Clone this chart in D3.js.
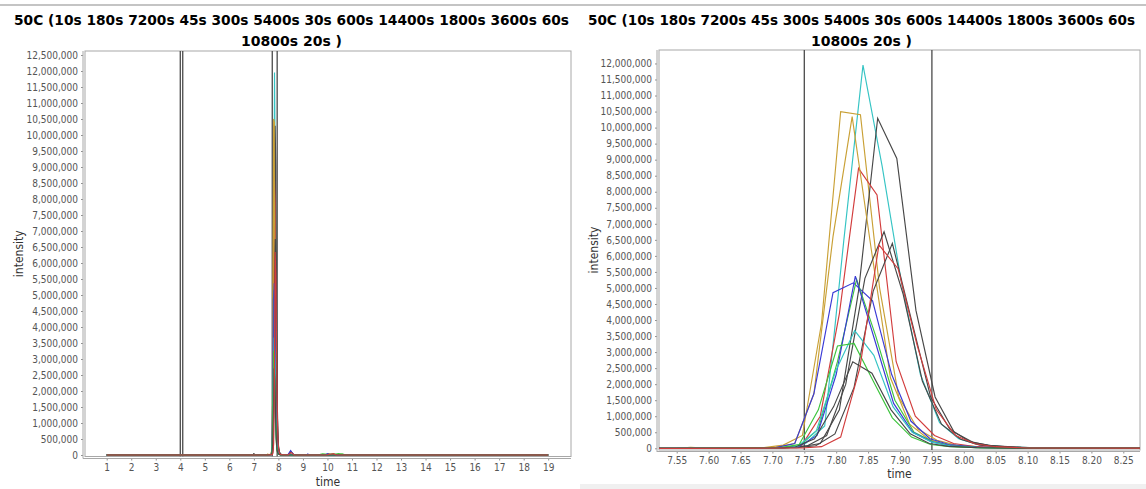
<!DOCTYPE html>
<html>
<head>
<meta charset="utf-8">
<script src="https://cdn.jsdelivr.net/npm/d3@7"></script>
<style>
  body { margin: 0; background: #fff; }
  svg { display: block; }
  text { font-family: "DejaVu Sans Condensed", "DejaVu Sans", sans-serif; }
</style>
</head>
<body>
<svg id="chart" width="1146" height="489"></svg>
<script>
// ---- chart text ----
const titleLines = [
  "50C (10s 180s 7200s 45s 300s 5400s 30s 600s 14400s 1800s 3600s 60s",
  "10800s 20s )"
];
const xLabel = "time";
const yLabel = "intensity";

// ---- samples (one trace per hold time) ----
const sampleNames = ["10s", "180s", "7200s", "45s", "300s", "5400s", "30s",
                     "600s", "14400s", "1800s", "3600s", "60s", "10800s", "20s"];
const sampleColors = ["#35c4c4", "#c9a035", "#474747", "#d23c3c", "#c9a035", "#474747", "#3a3ad6",
                      "#3cc43c", "#474747", "#3a3ad6", "#35c4c4", "#3cc43c", "#474747", "#d23c3c"];

// retention time (min) of each scan, per sample
const scanTimes = [
  [1.0, 7.55, 7.70, 7.722, 7.752, 7.782, 7.812, 7.842, 7.872, 7.902, 7.932, 7.962, 7.992, 8.022, 8.06, 8.12, 19.0],
  [1.0, 7.55, 7.572, 7.60, 7.687, 7.717, 7.747, 7.777, 7.807, 7.838, 7.868, 7.898, 7.928, 7.958, 7.988, 8.03, 8.10, 19.0],
  [1.0, 6.98, 7.0, 7.02, 7.55, 7.715, 7.745, 7.775, 7.805, 7.835, 7.865, 7.895, 7.925, 7.955, 7.985, 8.015, 8.045, 8.09, 8.15, 8.40, 8.50, 8.62, 19.0],
  [1.0, 7.55, 7.715, 7.745, 7.775, 7.805, 7.835, 7.864, 7.894, 7.924, 7.954, 7.984, 8.02, 8.08, 9.95, 10.05, 10.15, 19.0],
  [1.0, 7.55, 7.705, 7.735, 7.765, 7.795, 7.825, 7.855, 7.885, 7.915, 7.945, 7.975, 8.02, 8.08, 19.0],
  [1.0, 7.55, 7.725, 7.755, 7.785, 7.815, 7.845, 7.875, 7.905, 7.935, 7.965, 7.995, 8.025, 8.07, 8.14, 8.42, 8.52, 8.64, 19.0],
  [1.0, 7.55, 7.705, 7.735, 7.765, 7.795, 7.827, 7.857, 7.887, 7.917, 7.947, 7.977, 8.02, 8.08, 8.38, 8.50, 8.62, 9.15, 9.20, 9.25, 19.0],
  [1.0, 7.55, 7.712, 7.742, 7.772, 7.802, 7.832, 7.862, 7.892, 7.922, 7.952, 7.982, 8.02, 8.08, 9.6, 9.8, 10.0, 10.2, 10.4, 10.6, 10.75, 19.0],
  [1.0, 7.55, 7.738, 7.768, 7.798, 7.828, 7.858, 7.888, 7.918, 7.948, 7.978, 8.008, 8.038, 8.08, 8.15, 19.0],
  [1.0, 7.55, 7.71, 7.74, 7.77, 7.80, 7.830, 7.86, 7.89, 7.92, 7.95, 7.98, 8.02, 8.08, 9.9, 10.0, 10.1, 19.0],
  [1.0, 7.55, 7.709, 7.739, 7.769, 7.799, 7.829, 7.859, 7.889, 7.919, 7.949, 7.979, 8.02, 8.08, 19.0],
  [1.0, 7.55, 7.712, 7.742, 7.772, 7.802, 7.828, 7.858, 7.888, 7.918, 7.948, 7.978, 8.02, 8.08, 10.3, 10.45, 10.6, 19.0],
  [1.0, 7.55, 7.706, 7.736, 7.766, 7.796, 7.826, 7.856, 7.886, 7.916, 7.946, 7.976, 8.02, 8.08, 19.0],
  [1.0, 7.55, 7.747, 7.777, 7.807, 7.837, 7.867, 7.897, 7.927, 7.957, 7.987, 8.017, 8.05, 8.10, 8.40, 8.52, 8.64, 9.95, 10.25, 10.35, 19.0]
];

// intensity of each scan, per sample
const scanIntensity = [
  [0, 0, 10e3, 40e3, 150e3, 700e3, 6.5e6, 11.95e6, 8.8e6, 5.2e6, 2.3e6, 0.8e6, 0.3e6, 0.12e6, 50e3, 10e3, 0],
  [0, 0, 30e3, 0, 20e3, 100e3, 400e3, 3.9e6, 10.5e6, 10.4e6, 5.0e6, 1.6e6, 0.6e6, 0.25e6, 0.1e6, 40e3, 10e3, 0],
  [0, 0, 60e3, 0, 0, 20e3, 50e3, 150e3, 1.2e6, 4.9e6, 10.29e6, 9.04e6, 4.3e6, 1.6e6, 0.5e6, 0.18e6, 80e3, 30e3, 10e3, 0, 120e3, 0, 0],
  [0, 0, 10e3, 60e3, 1.0e6, 4.2e6, 8.73e6, 7.9e6, 2.7e6, 1.0e6, 0.4e6, 0.15e6, 50e3, 10e3, 0, 40e3, 0, 0],
  [0, 0, 30e3, 150e3, 1.7e6, 6.6e6, 10.34e6, 6.2e6, 2.2e6, 0.75e6, 0.28e6, 0.1e6, 30e3, 10e3, 0],
  [0, 0, 20e3, 80e3, 400e3, 2.0e6, 5.3e6, 6.75e6, 4.8e6, 2.1e6, 0.75e6, 0.28e6, 0.1e6, 30e3, 10e3, 0, 100e3, 0, 0],
  [0, 0, 20e3, 150e3, 1.7e6, 4.85e6, 5.16e6, 4.6e6, 2.3e6, 0.85e6, 0.3e6, 0.12e6, 40e3, 10e3, 0, 140e3, 0, 0, 30e3, 0, 0],
  [0, 0, 10e3, 60e3, 0.6e6, 2.7e6, 5.27e6, 3.5e6, 1.5e6, 0.5e6, 0.2e6, 0.08e6, 30e3, 10e3, 0, 40e3, 20e3, 40e3, 30e3, 40e3, 0, 0],
  [0, 0, 20e3, 80e3, 0.45e6, 1.9e6, 4.9e6, 6.39e6, 4.0e6, 1.6e6, 0.6e6, 0.22e6, 90e3, 30e3, 10e3, 0],
  [0, 0, 10e3, 40e3, 0.4e6, 2.3e6, 5.37e6, 3.4e6, 1.4e6, 0.5e6, 0.2e6, 0.08e6, 30e3, 10e3, 0, 40e3, 0, 0],
  [0, 0, 10e3, 50e3, 0.55e6, 2.4e6, 3.67e6, 2.9e6, 1.3e6, 0.5e6, 0.2e6, 0.07e6, 20e3, 5e3, 0],
  [0, 0, 20e3, 120e3, 1.2e6, 3.19e6, 3.27e6, 2.1e6, 0.95e6, 0.35e6, 0.12e6, 0.05e6, 20e3, 5e3, 0, 40e3, 0, 0],
  [0, 0, 10e3, 40e3, 0.3e6, 1.3e6, 2.7e6, 2.34e6, 1.2e6, 0.45e6, 0.15e6, 0.06e6, 20e3, 5e3, 0],
  [0, 0, 10e3, 50e3, 0.35e6, 2.5e6, 6.34e6, 5.6e6, 3.2e6, 1.2e6, 0.4e6, 0.14e6, 50e3, 10e3, 0, 80e3, 0, 0, 40e3, 0, 0]
];

// range markers (min)
const fullMarkers = [4.0, 4.1, 7.75, 7.95];
const zoomMarkers = [7.75, 7.95];

// tick labels
const fullTimeTicks = d3.range(1, 20);
const zoomTimeTicks = [7.55, 7.60, 7.65, 7.70, 7.75, 7.80, 7.85, 7.90, 7.95, 8.00, 8.05, 8.10, 8.15, 8.20, 8.25];
const fullIntensityTicks = d3.range(0, 12500001, 500000);
const zoomIntensityTicks = d3.range(0, 12000001, 500000);

const svg = d3.select("#chart");

// thin grey separators at the top of each panel and bottom of the right one
svg.append("rect").attr("x", 0).attr("y", 4).attr("width", 1146).attr("height", 2).attr("fill", "#c4c4c4");
svg.append("rect").attr("x", 580).attr("y", 484).attr("width", 566).attr("height", 5).attr("fill", "#f0f0f0");

const panels = [
  {
    id: "full", cx: 291.5, titleW: 555,
    plot: { x0: 85, x1: 571, y0: 51, y1: 456.5 },
    xDomain: [1, 19], xRange: [106.7, 548.2],
    yDomain: [0, 12500000], yRange: [455, 55],
    xTicks: fullTimeTicks, xFmt: d3.format("d"),
    yTicks: fullIntensityTicks, markers: fullMarkers,
    yAxisX: 83, xAxisY: 458.5, xLabelY: 486, yLabelX: 23, xPad: 3
  },
  {
    id: "zoom", cx: 861.5, titleW: 547,
    plot: { x0: 659, x1: 1140, y0: 50, y1: 450 },
    xDomain: [7.55, 8.25], xRange: [676.7, 1123.3],
    yDomain: [0, 12000000], yRange: [448.3, 63.46],
    xTicks: zoomTimeTicks, xFmt: d3.format(".2f"),
    yTicks: zoomIntensityTicks, markers: zoomMarkers,
    yAxisX: 657, xAxisY: 451.5, xLabelY: 478, yLabelX: 598, xPad: 3
  }
];

panels.forEach(p => {
  const g = svg.append("g").attr("class", "panel-" + p.id);
  const x = d3.scaleLinear().domain(p.xDomain).range(p.xRange);
  const y = d3.scaleLinear().domain(p.yDomain).range(p.yRange);

  // title
  titleLines.forEach((line, i) => {
    g.append("text")
      .attr("x", p.cx).attr("y", 25 + i * 20.5)
      .attr("text-anchor", "middle")
      .attr("font-size", 13.8).attr("font-weight", "bold").attr("fill", "#000")
      .attr("textLength", i === 0 ? p.titleW : 101).attr("lengthAdjust", "spacingAndGlyphs")
      .text(line);
  });

  // plot background and outline
  g.append("rect")
    .attr("x", p.plot.x0).attr("y", p.plot.y0)
    .attr("width", p.plot.x1 - p.plot.x0).attr("height", p.plot.y1 - p.plot.y0)
    .attr("fill", "#fff").attr("stroke", "#a8a8a8").attr("stroke-width", 1);

  const clipId = "clip-" + p.id;
  g.append("clipPath").attr("id", clipId).append("rect")
    .attr("x", p.plot.x0).attr("y", p.plot.y0)
    .attr("width", p.plot.x1 - p.plot.x0).attr("height", p.plot.y1 - p.plot.y0);

  // range markers
  g.append("g").attr("clip-path", `url(#${clipId})`)
    .selectAll("line").data(p.markers).join("line")
    .attr("x1", d => x(d)).attr("x2", d => x(d))
    .attr("y1", p.plot.y0).attr("y2", p.plot.y1)
    .attr("stroke", "#4a4a4a").attr("stroke-width", 1.3);

  // traces
  const line = d3.line().x(d => x(d[0])).y(d => y(d[1]));
  const traces = sampleNames.map((name, i) => ({
    name, color: sampleColors[i],
    pts: scanTimes[i].map((t, k) => [t, scanIntensity[i][k]])
  }));
  g.append("g").attr("clip-path", `url(#${clipId})`)
    .selectAll("path").data(traces).join("path")
    .attr("d", d => line(d.pts))
    .attr("fill", "none").attr("stroke", d => d.color).attr("stroke-width", 1.15)
    .attr("stroke-linejoin", "miter");

  // axes
  const yAxis = d3.axisLeft(y).tickValues(p.yTicks).tickFormat(d3.format(",")).tickSize(2).tickPadding(3).tickSizeOuter(0);
  const ya = g.append("g").attr("transform", `translate(${p.yAxisX},0)`).call(yAxis);
  ya.select(".domain").remove();
  ya.selectAll(".tick line").attr("stroke", "#909090");
  ya.selectAll(".tick text").attr("fill", "#555").attr("font-size", 10).style("font-family", null);
  g.append("line").attr("x1", p.yAxisX).attr("x2", p.yAxisX).attr("y1", p.plot.y0).attr("y2", p.plot.y1 + 2)
    .attr("stroke", "#a8a8a8");

  const xAxis = d3.axisBottom(x).tickValues(p.xTicks).tickFormat(p.xFmt).tickSize(2).tickPadding(p.xPad).tickSizeOuter(0);
  const xa = g.append("g").attr("transform", `translate(0,${p.xAxisY})`).call(xAxis);
  xa.select(".domain").remove();
  xa.selectAll(".tick line").attr("stroke", "#909090");
  xa.selectAll(".tick text").attr("fill", "#555").attr("font-size", 10).style("font-family", null);
  g.append("line").attr("x1", p.plot.x0 - 2).attr("x2", p.plot.x1).attr("y1", p.xAxisY).attr("y2", p.xAxisY)
    .attr("stroke", "#a8a8a8");

  // axis titles
  g.append("text")
    .attr("x", (p.plot.x0 + p.plot.x1) / 2).attr("y", p.xLabelY)
    .attr("text-anchor", "middle").attr("font-size", 12).attr("fill", "#333")
    .text(xLabel);
  g.append("text")
    .attr("transform", `translate(${p.yLabelX},${(p.plot.y0 + p.plot.y1) / 2}) rotate(-90)`)
    .attr("text-anchor", "middle").attr("font-size", 12).attr("fill", "#333")
    .text(yLabel);
});
</script>
</body>
</html>
